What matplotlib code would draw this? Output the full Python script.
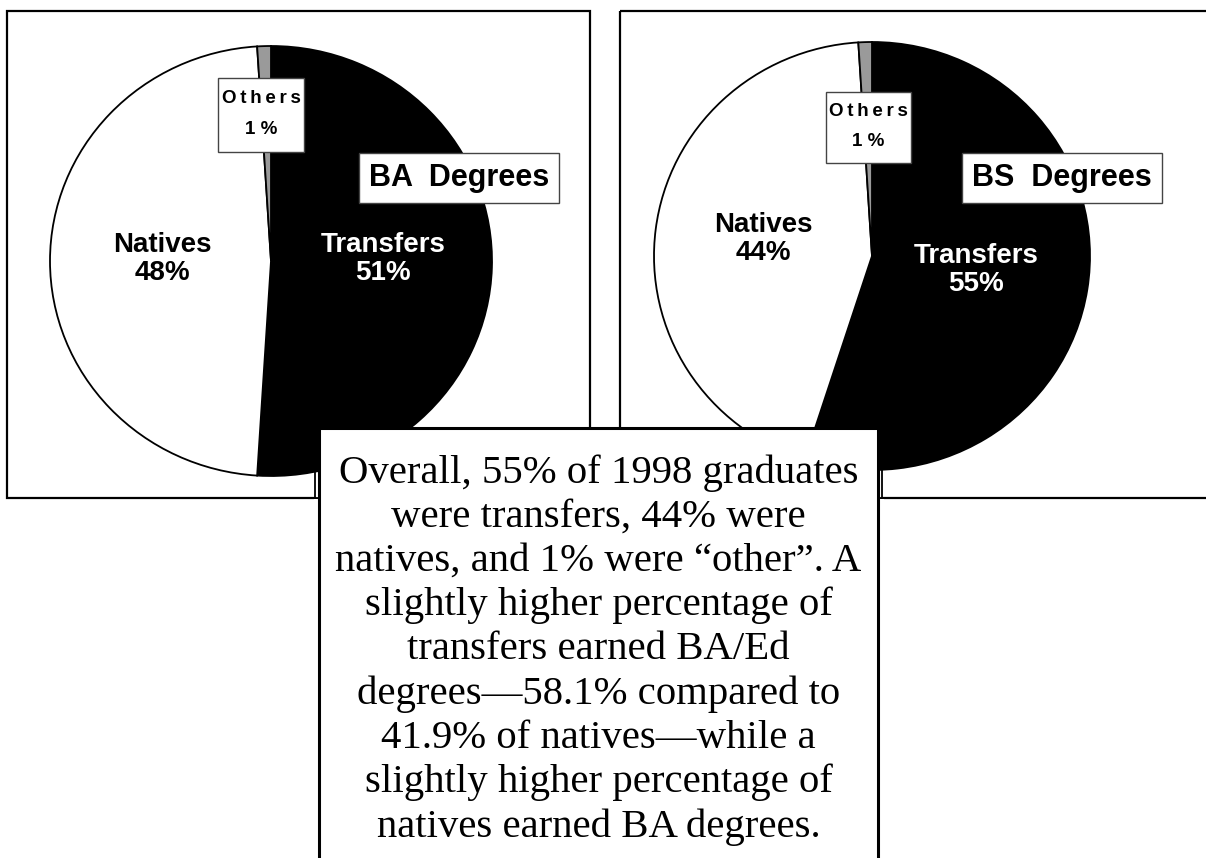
import matplotlib
matplotlib.use("Agg")
import matplotlib.pyplot as plt
from matplotlib.patches import Rectangle

# Data
categories = ["Transfers", "Natives", "Others"]
ba_share = [51, 48, 1]
bs_share = [55, 44, 1]
colors = ["black", "white", "#9a9a9a"]

summary = ("Overall, 55% of 1998 graduates\n"
           "were transfers, 44% were\n"
           "natives, and 1% were \u201cother\u201d. A\n"
           "slightly higher percentage of\n"
           "transfers earned BA/Ed\n"
           "degrees\u201458.1% compared to\n"
           "41.9% of natives\u2014while a\n"
           "slightly higher percentage of\n"
           "natives earned BA degrees.")

W, H = 1206, 858
fig = plt.figure(figsize=(W / 100, H / 100), dpi=100)

SANS = ["Liberation Sans", "DejaVu Sans"]


def fx(px):
    return px / W


def fy(py):
    return 1 - py / H


def pixel_axes(z):
    a = fig.add_axes([0, 0, 1, 1], zorder=z)
    a.set_xlim(0, W)
    a.set_ylim(H, 0)
    a.axis("off")
    a.patch.set_visible(False)
    return a


# frames behind the pies
bg = pixel_axes(0)
bg.add_patch(Rectangle((7, 11), 583, 487, fill=False, lw=1.6, ec="black", zorder=1))
bg.add_patch(Rectangle((620, 11), 610, 487, fill=False, lw=1.6, ec="black", zorder=1))
# white notch cut out of the frames around the text box
bg.add_patch(Rectangle((315, 462), 567, 36, fc="white", lw=1.3, ec="black", zorder=2))
bg.add_patch(Rectangle((314, 499), 570, 400, fc="white", lw=0, zorder=3))


def draw_pie(values, cx, cy, rx, ry):
    m = 1.05
    ax = fig.add_axes([fx(cx - rx * m), fy(cy + ry * m), 2 * rx * m / W, 2 * ry * m / H],
                      zorder=1)
    ax.pie(values, colors=colors, startangle=90, counterclock=False,
           wedgeprops=dict(edgecolor="black", linewidth=1.3))
    ax.set_aspect("auto")
    ax.set_xlim(-m, m)
    ax.set_ylim(-m, m)
    ax.patch.set_visible(False)
    return ax


draw_pie(ba_share, 271, 261, 221, 215)
draw_pie(bs_share, 872, 256, 218, 214)

# label boxes over the pies
ov = pixel_axes(3)


def pie_label(px, py, name, pct, color):
    fig.text(fx(px), fy(py), f"{name}\n{pct}%", ha="center", va="center",
             family=SANS, weight="bold", fontsize=20, color=color,
             linespacing=1.07, zorder=4)


def others_box(x0, y0, w, h, pct):
    ov.add_patch(Rectangle((x0, y0), w, h, fc="white", ec="#444444", lw=1.0))
    fig.text(fx(x0 + w / 2), fy(y0 + h * 0.28), "O\u2009t\u2009h\u2009e\u2009r\u2009s",
             ha="center", va="center", family=SANS, weight="bold", fontsize=13.5, zorder=4)
    fig.text(fx(x0 + w / 2), fy(y0 + h * 0.70), f"{pct} %",
             ha="center", va="center", family=SANS, weight="bold", fontsize=13.5, zorder=4)


def title_box(px, py, text):
    fig.text(fx(px), fy(py), text, ha="center", va="center", family=SANS,
             weight="bold", fontsize=22, zorder=4,
             bbox=dict(boxstyle="square,pad=0.33", fc="white", ec="#444444", lw=1.0))


pie_label(162, 259, categories[1], ba_share[1], "black")
pie_label(383, 259, categories[0], ba_share[0], "white")
others_box(218, 78, 86, 74, ba_share[2])
title_box(459, 178, "BA  Degrees")

pie_label(763, 239, categories[1], bs_share[1], "black")
pie_label(976, 270, categories[0], bs_share[0], "white")
others_box(826, 92, 85, 71, bs_share[2])
title_box(1062, 178, "BS  Degrees")

# summary text box on top
tb = fig.add_axes([fx(319), fy(880), (878 - 319) / W, (880 - 428) / H], zorder=5)
tb.set_facecolor("white")
tb.set_xticks([])
tb.set_yticks([])
for s in tb.spines.values():
    s.set_linewidth(2.2)
    s.set_color("black")
fig.text(fx(598.5), fy(650), summary, ha="center", va="center",
         family=["Liberation Serif", "DejaVu Serif"], fontsize=29.3,
         linespacing=1.245, zorder=6)

fig.savefig("out.png", dpi=100)
